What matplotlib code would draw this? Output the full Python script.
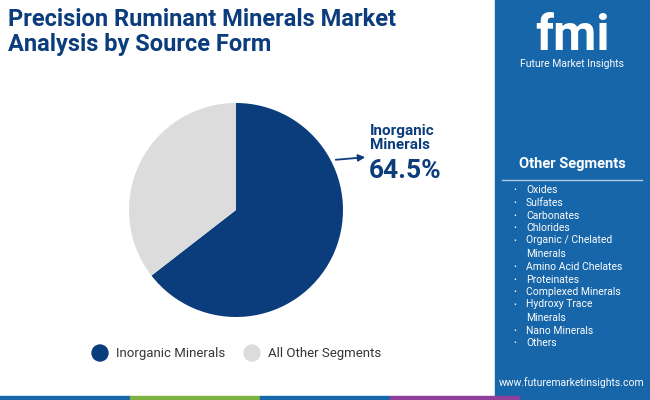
import matplotlib.pyplot as plt
from matplotlib.patches import Rectangle, Ellipse

plt.rcParams['font.family'] = 'Roboto'

labels = ['Inorganic Minerals', 'All Other Segments']
shares = [64.5, 35.5]
colors = ['#0b3c7c', '#dcdcdc']
other_segments = ['Oxides', 'Sulfates', 'Carbonates', 'Chlorides', 'Organic / Chelated\nMinerals',
                  'Amino Acid Chelates', 'Proteinates', 'Complexed Minerals',
                  'Hydroxy Trace\nMinerals', 'Nano Minerals', 'Others']

W, H = 650, 400
fig = plt.figure(figsize=(6.5, 4), dpi=100)
fig.patch.set_facecolor('white')

def fx(x): return x / W
def fy(y): return 1 - y / H

# right panel
fig.patches.append(Rectangle((fx(495), 0), fx(155), 1, transform=fig.transFigure,
                             color='#1766a9', zorder=0))
# bottom stripe
stripe = ['#1766a9', '#7cb342', '#1766a9', '#8e3f9a', '#1766a9']
for i, c in enumerate(stripe):
    fig.patches.append(Rectangle((i / 5, 0), 0.2, 4 / H, transform=fig.transFigure, color=c, zorder=1))

fig.text(fx(8), fy(8), 'Precision Ruminant Minerals Market\nAnalysis by Source Form',
         fontsize=17, fontweight='bold', color='#0b3c7c', va='top', ha='left', linespacing=1.1)

# logo
fig.text(fx(572), fy(36), 'fmi', fontsize=36, fontweight='bold', color='white', ha='center', va='center')
fig.text(fx(572), fy(64), 'Future Market Insights', fontsize=7.5, color='white', ha='center', va='center')

fig.text(fx(572), fy(164), 'Other Segments', fontsize=10.5, fontweight='bold', color='white', ha='center', va='center')
fig.add_artist(plt.Line2D([fx(502), fx(642)], [fy(180), fy(180)], transform=fig.transFigure,
                          color='#b0c8e0', lw=1))
y = 190
for s in other_segments:
    fig.text(fx(513), fy(y), '•', fontsize=6, color='white', ha='left', va='center')
    if '\n' in s:
        fig.text(fx(526), fy(y - 6), s, fontsize=7.5, color='white', ha='left', va='top', linespacing=1.5)
        y += 25.5
    else:
        fig.text(fx(526), fy(y), s, fontsize=7.5, color='white', ha='left', va='center')
        y += 12.8
fig.text(fx(572), fy(383), 'www.futuremarketinsights.com', fontsize=7.5, color='white', ha='center', va='center')

# pie
r = 107
ax = fig.add_axes([fx(236 - r), fy(210 + r), fx(2 * r), 2 * r / H])
ax.pie(shares, colors=colors, startangle=90, counterclock=False)
ax.set_xlim(-1, 1)
ax.set_ylim(-1, 1)
ax.set_aspect('equal')

fig.text(fx(370), fy(138), 'Inorganic\nMinerals', fontsize=11, fontweight='bold', color='#0b3c7c',
         ha='left', va='center', linespacing=1.0)
fig.text(fx(369), fy(171), f'{shares[0]}%', fontsize=19, fontweight='bold', color='#0b3c7c',
         ha='left', va='center')
fig.add_artist(plt.Annotation('', xy=(fx(368), fy(157)), xytext=(fx(333), fy(160)),
                              xycoords='figure fraction', textcoords='figure fraction',
                              arrowprops=dict(arrowstyle='-|>', color='#0b3c7c', lw=1.3)))

# legend
for lx, lab, c in [(100, labels[0], colors[0]), (252, labels[1], colors[1])]:
    fig.patches.append(Ellipse((fx(lx), fy(353)), fx(16), 16 / H, transform=fig.transFigure, color=c))
    fig.text(fx(lx + 16), fy(353), lab, fontsize=9.5, color='#333333', ha='left', va='center')

fig.savefig('out.png', dpi=100)
